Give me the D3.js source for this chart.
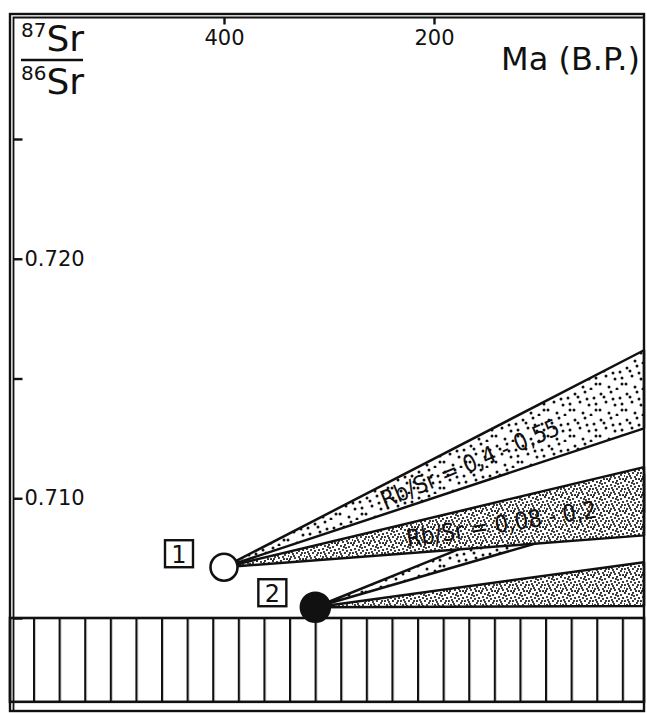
<!DOCTYPE html>
<html>
<head>
<meta charset="utf-8">
<script src="https://cdn.jsdelivr.net/npm/d3@7"></script>
<style>
  body { margin: 0; background: #fff; }
  svg { display: block; font-family: "DejaVu Sans", sans-serif; }
</style>
</head>
<body>
<div id="chart"></div>
<script>
// Size of the page
const width = 647;
const height = 713;

// Frame edges
const frame = { left: 10, top: 14, right: 644, bottom: 711 };

// Axis ticks
const ageTicks = [400, 200];
const ratioTicks = [0.705, 0.71, 0.715, 0.72, 0.725];
const ratioLabels = [0.71, 0.72];

// Samples: age (Ma) and initial 87Sr/86Sr
const sampleIds = ["1", "2"];
const sampleAges = [400, 313];
const sampleRatios = [0.70712, 0.70545];
const sampleFilled = [false, true];

// Growth wedges: which sample, ratio reached today (0 Ma) at upper and lower edge
const wedgeSample = ["2", "2", "1", "1"];
const wedgeTop = [0.711, 0.70733, 0.71618, 0.7113];
const wedgeBottom = [0.70942, 0.7055, 0.71292, 0.70845];
const wedgeTexture = ["sparse", "dense", "sparse", "dense"];
const wedgeLabels = ["", "", "Rb/Sr = 0,4 - 0,55", "Rb/Sr = 0,08 - 0,2"];
const wedgeLabelAge = [null, null, 166, 136];

// Hatched base band (ratio range)
const baseBand = [0.7015, 0.705];

const svg = d3
  .select("#chart")
  .append("svg")
  .attr("width", width)
  .attr("height", height);

// Scales
const x = d3.scaleLinear().domain([600, 0]).range([14, 644]);
const y = d3.scaleLinear().domain([0.705, 0.725]).range([618, 139]);

// Textures
const defs = svg.append("defs");

const sparse = defs
  .append("pattern")
  .attr("id", "sparse")
  .attr("patternUnits", "userSpaceOnUse")
  .attr("width", 26)
  .attr("height", 26);
sparse.append("rect").attr("width", 26).attr("height", 26).attr("fill", "#fff");
[[3, 4], [13, 2], [22, 8], [8, 12], [17, 15], [2, 20], [11, 23], [24, 20], [19, 25], [6, 7], [15, 9], [24, 14]].forEach(([cx, cy]) => {
  sparse.append("circle").attr("cx", cx).attr("cy", cy).attr("r", 1.5).attr("fill", "#111");
});

const dense = defs
  .append("pattern")
  .attr("id", "dense")
  .attr("patternUnits", "userSpaceOnUse")
  .attr("width", 16)
  .attr("height", 16);
dense.append("rect").attr("width", 16).attr("height", 16).attr("fill", "#fff");
[[1, 1], [5, 2], [9, 1], [13, 3], [3, 5], [7, 6], [11, 7], [15, 6], [1, 9], [5, 10],
 [9, 9], [13, 11], [3, 13], [7, 14], [11, 13], [15, 15], [2, 15], [10, 4], [6, 12], [14, 9],
 [4, 8], [12, 15], [8, 3], [0, 12]].forEach(([cx, cy]) => {
  dense.append("circle").attr("cx", cx).attr("cy", cy).attr("r", 1.05).attr("fill", "#111");
});

const hatch = defs
  .append("pattern")
  .attr("id", "hatch")
  .attr("patternUnits", "userSpaceOnUse")
  .attr("x", 7.4)
  .attr("width", 25.6)
  .attr("height", 10);
hatch.append("line").attr("x1", 1).attr("x2", 1).attr("y1", 0).attr("y2", 10)
  .attr("stroke", "#111").attr("stroke-width", 2.4);

// Hatched band at the bottom
svg
  .append("rect")
  .attr("x", frame.left)
  .attr("y", y(baseBand[1]))
  .attr("width", frame.right - frame.left)
  .attr("height", y(baseBand[0]) - y(baseBand[1]))
  .attr("fill", "url(#hatch)")
  .attr("stroke", "#111")
  .attr("stroke-width", 2.6);

// Growth wedges
const wedges = wedgeSample.map((s, i) => {
  const k = sampleIds.indexOf(s);
  return {
    x0: x(sampleAges[k]),
    y0: y(sampleRatios[k]),
    x1: x(0),
    yTop: y(wedgeTop[i]),
    yBottom: y(wedgeBottom[i]),
    texture: wedgeTexture[i],
    label: wedgeLabels[i],
    labelAge: wedgeLabelAge[i],
  };
});

svg
  .selectAll(".wedge")
  .data(wedges)
  .enter()
  .append("path")
  .attr("class", "wedge")
  .attr("d", (d) => `M${d.x0},${d.y0}L${d.x1},${d.yTop}L${d.x1},${d.yBottom}Z`)
  .attr("fill", (d) => `url(#${d.texture})`)
  .attr("stroke", "#111")
  .attr("stroke-width", 2.5)
  .attr("stroke-linejoin", "round");

// Labels along the wedges
svg
  .selectAll(".wedge-label")
  .data(wedges.filter((d) => d.label))
  .enter()
  .append("text")
  .attr("class", "wedge-label")
  .attr("transform", (d) => {
    const lx = x(d.labelAge);
    const yMid1 = (d.yTop + d.yBottom) / 2;
    const t = (lx - d.x0) / (d.x1 - d.x0);
    const ly = d.y0 + t * (yMid1 - d.y0);
    const angle = (Math.atan2(yMid1 - d.y0, d.x1 - d.x0) * 180) / Math.PI;
    return `translate(${lx},${ly}) rotate(${angle})`;
  })
  .attr("text-anchor", "middle")
  .attr("dy", "0.36em")
  .attr("font-size", 24)
  .attr("textLength", 192)
  .attr("lengthAdjust", "spacingAndGlyphs")
  .attr("fill", "#111")
  .text((d) => d.label);

// Sample circles
svg
  .selectAll(".sample")
  .data(sampleIds)
  .enter()
  .append("circle")
  .attr("class", "sample")
  .attr("cx", (d, i) => x(sampleAges[i]))
  .attr("cy", (d, i) => y(sampleRatios[i]))
  .attr("r", (d, i) => (sampleFilled[i] ? 14.5 : 13.5))
  .attr("fill", (d, i) => (sampleFilled[i] ? "#111" : "#fff"))
  .attr("stroke", "#111")
  .attr("stroke-width", 2.6);

// Boxed sample numbers
const boxes = svg
  .selectAll(".sample-box")
  .data(sampleIds)
  .enter()
  .append("g")
  .attr("class", "sample-box")
  .attr("transform", (d, i) => {
    const bx = x(sampleAges[i]) - (sampleFilled[i] ? 43 : 45);
    const by = y(sampleRatios[i]) - (sampleFilled[i] ? 14 : 13);
    return `translate(${bx},${by})`;
  });

boxes
  .append("rect")
  .attr("x", -14)
  .attr("y", -14)
  .attr("width", 28)
  .attr("height", 27)
  .attr("fill", "#fff")
  .attr("stroke", "#111")
  .attr("stroke-width", 2.4);

boxes
  .append("text")
  .attr("text-anchor", "middle")
  .attr("dy", "0.36em")
  .attr("font-size", 24)
  .attr("fill", "#111")
  .text((d) => d);

// Frame (double line on the left and top)
svg
  .append("rect")
  .attr("x", frame.left)
  .attr("y", frame.top)
  .attr("width", frame.right - frame.left)
  .attr("height", frame.bottom - frame.top)
  .attr("fill", "none")
  .attr("stroke", "#111")
  .attr("stroke-width", 2.4);

svg
  .append("path")
  .attr("d", `M${frame.left + 3.5},${frame.bottom}V${frame.top + 3.5}H${frame.right}`)
  .attr("fill", "none")
  .attr("stroke", "#111")
  .attr("stroke-width", 1.8);

// Age axis on top
const xAxis = d3
  .axisBottom(x)
  .tickValues(ageTicks)
  .tickSize(7)
  .tickPadding(6)
  .tickFormat(d3.format("d"));

const xg = svg
  .append("g")
  .attr("transform", `translate(0, ${frame.top + 3.5})`)
  .call(xAxis);
xg.select(".domain").remove();
xg.selectAll("line").attr("stroke", "#111").attr("stroke-width", 2.4);
xg.selectAll("text").attr("font-size", 21).attr("fill", "#111").style("font-family", "DejaVu Sans");

// Ratio axis on the left
const yAxis = d3
  .axisRight(y)
  .tickValues(ratioTicks)
  .tickSize(9)
  .tickPadding(2)
  .tickFormat((d) => (ratioLabels.some((v) => Math.abs(v - d) < 1e-9) ? d3.format(".3f")(d) : ""));

const yg = svg
  .append("g")
  .attr("transform", `translate(${frame.left + 3.5}, 0)`)
  .call(yAxis);
yg.select(".domain").remove();
yg.selectAll("line").attr("stroke", "#111").attr("stroke-width", 2.4);
yg.selectAll("text").attr("font-size", 21).attr("fill", "#111").style("font-family", "DejaVu Sans");

// Axis titles
svg
  .append("text")
  .attr("x", 640)
  .attr("y", 70)
  .attr("text-anchor", "end")
  .attr("font-size", 32)
  .attr("fill", "#111")
  .text("Ma (B.P.)");

const ratioTitle = svg.append("g").attr("transform", "translate(21, 0)");

const num = ratioTitle.append("text").attr("y", 51).attr("fill", "#111");
num.append("tspan").attr("font-size", 20).attr("dy", -14).text("87");
num.append("tspan").attr("font-size", 36).attr("dy", 14).text("Sr");

ratioTitle
  .append("line")
  .attr("x1", 0)
  .attr("x2", 62)
  .attr("y1", 60)
  .attr("y2", 60)
  .attr("stroke", "#111")
  .attr("stroke-width", 2.4);

const den = ratioTitle.append("text").attr("y", 94).attr("fill", "#111");
den.append("tspan").attr("font-size", 20).attr("dy", -14).text("86");
den.append("tspan").attr("font-size", 36).attr("dy", 14).text("Sr");
</script>
</body>
</html>
